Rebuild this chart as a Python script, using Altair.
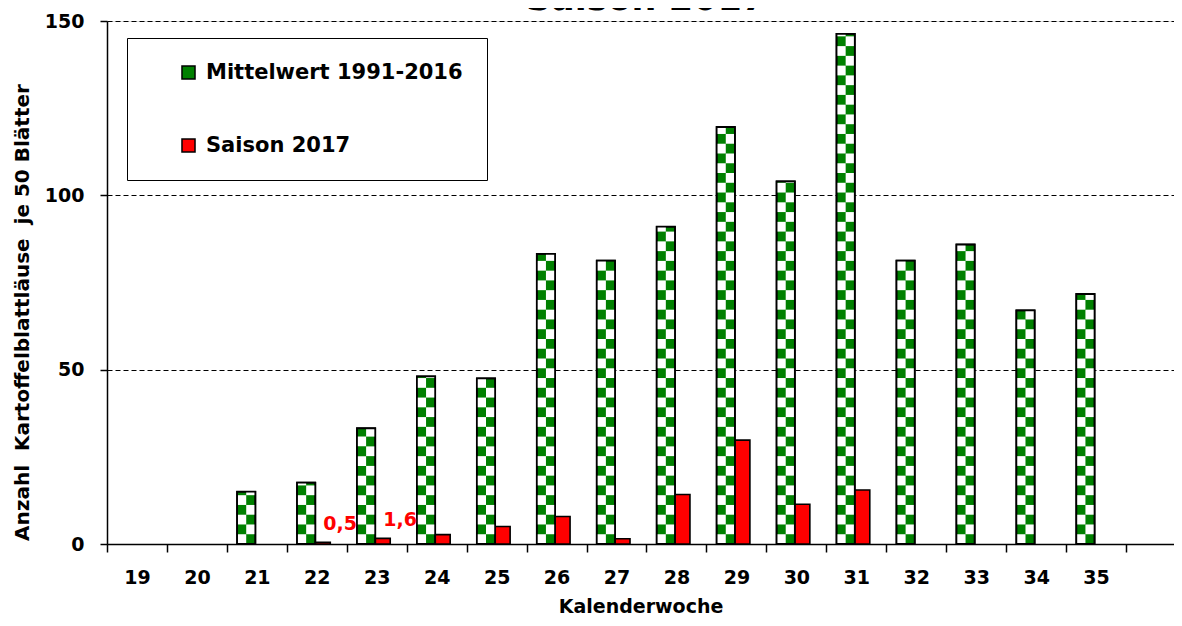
import altair as alt
import pandas as pd

# ---- data ----
chart_title = ["Saison 2017"]
series_names = ["Mittelwert 1991-2016", "Saison 2017"]
mittel_weeks = list(range(21, 36))
mittel_values = [15.0, 17.6, 33.2, 48.1, 47.5, 83.2, 81.3, 91.0, 119.6, 104.0,
                 146.3, 81.3, 85.9, 67.0, 71.7]
saison_weeks = list(range(22, 32))
saison_values = [0.5, 1.6, 2.7, 5.0, 7.9, 1.5, 14.2, 29.8, 11.4, 15.5]
label_weeks = [22, 23]
tick_weeks = list(range(19, 37))
y_ticks = [0, 50, 100, 150]

GREEN = "#008000"
RED = "#ff0000"
FONT = "DejaVu Sans"

df = pd.DataFrame({
    "week": mittel_weeks + saison_weeks,
    "value": mittel_values + saison_values,
    "series": [series_names[0]] * len(mittel_weeks) + [series_names[1]] * len(saison_weeks),
    "s": [0] * len(mittel_weeks) + [1] * len(saison_weeks),
})

CELL = 2.8  # checker cell height in data units

xscale = alt.Scale(domain=[18.5, 36.3], nice=False, zero=False)
yscale = alt.Scale(domain=[0, 150], nice=False)

xaxis = alt.Axis(values=tick_weeks, tickOffset=-30, labelOffset=30, format="d",
                 labelExpr="datum.value <= 35 ? datum.label : ''",
                 labelFlush=False, labelOverlap=False, grid=False,
                 domainColor="black", domainWidth=1.5, tickColor="black", tickWidth=1.5,
                 tickSize=8, labelFontSize=19, labelFontWeight="bold", labelColor="black",
                 labelPadding=16, labelFont=FONT,
                 title="Kalenderwoche", titleFontSize=19, titleFontWeight="bold",
                 titleColor="black", titlePadding=10, titleFont=FONT)
yaxis = alt.Axis(values=y_ticks, grid=True, gridDash=[5, 3], gridColor="black",
                 gridOpacity=1, gridWidth=1, domainColor="black", domainWidth=1.5,
                 tickColor="black", tickWidth=1.5, tickSize=7, labelFontSize=19,
                 labelFontWeight="bold", labelColor="black", labelPadding=16,
                 labelFont=FONT,
                 title="Anzahl\u00a0 Kartoffelblattläuse\u00a0 je 50 Blätter",
                 titleFontSize=20, titleFontWeight="bold", titleColor="black",
                 titleFont=FONT, titleX=-85, titleY=291, titleBaseline="middle")

base = alt.Chart(df).transform_calculate(
    xs="datum.week - 0.33 + datum.s * 0.305",
    xe="datum.week - 0.33 + datum.s * 0.305 + (datum.s == 0 ? 0.305 : 0.25)",
)

bars = base.mark_bar(stroke="black", strokeWidth=1.6).encode(
    x=alt.X("xs:Q", scale=xscale, axis=xaxis),
    x2="xe:Q",
    y=alt.Y("value:Q", scale=yscale, axis=yaxis),
    y2=alt.datum(0),
    color=alt.Color("series:N",
                    scale=alt.Scale(domain=series_names, range=[GREEN, RED]),
                    legend=alt.Legend(title=None, orient="none", legendX=20, legendY=17,
                                      padding=24, symbolOffset=27, rowPadding=51,
                                      labelOffset=7, symbolType="square", symbolSize=170,
                                      symbolStrokeColor="black", symbolStrokeWidth=1.5,
                                      labelFontSize=21, labelFontWeight="bold",
                                      labelColor="black", labelFont=FONT, labelLimit=500,
                                      fillColor="white", strokeColor="black")),
)

cells = base.transform_filter("datum.s == 0").transform_calculate(
    start=f"sequence(0, datum.value, {CELL})"
).transform_flatten(["start"]).transform_calculate(
    k=f"round(datum.start / {CELL})",
    cx="datum.xs + (datum.k % 2) * (datum.xe - datum.xs) / 2",
    cx2="datum.xs + (datum.k % 2 + 1) * (datum.xe - datum.xs) / 2",
    cy2=f"min(datum.start + {CELL}, datum.value)",
).mark_rect(fill="white", strokeWidth=0).encode(
    x="cx:Q", x2="cx2:Q", y="start:Q", y2="cy2:Q"
)

outline = base.transform_filter("datum.s == 0").mark_bar(
    fillOpacity=0, stroke="black", strokeWidth=1.8
).encode(x="xs:Q", x2="xe:Q", y="value:Q", y2=alt.datum(0))

labels = base.transform_filter(
    alt.FieldOneOfPredicate(field="week", oneOf=label_weeks)
).transform_filter("datum.s == 1").transform_calculate(
    lx="datum.week + 0.39",
    txt="replace(format(datum.value, '.1f'), '.', ',')",
).mark_text(color=RED, fontWeight="bold", fontSize=19, font=FONT,
            baseline="bottom", dy=-8).encode(
    x="lx:Q", y="value:Q", text="txt:N"
)

# chart title: in the reference it sits above the visible area, only its lower edge shows
title_text = alt.Chart(pd.DataFrame({"t": chart_title})).mark_text(
    fontSize=35, fontWeight="bold", font=FONT, color="black",
    align="center", baseline="alphabetic"
).encode(text="t:N", x=alt.value(539), y=alt.value(-11))

chart = alt.layer(bars, cells, outline, labels, title_text).properties(
    width=1067, height=523,
    autosize=alt.AutoSizeParams(type="none"),
    padding={"left": 99, "top": 13, "right": 0, "bottom": 74},
).configure_view(stroke=None).configure(font=FONT)

chart.save("out.html", embed_options={"renderer": "svg", "actions": False})
